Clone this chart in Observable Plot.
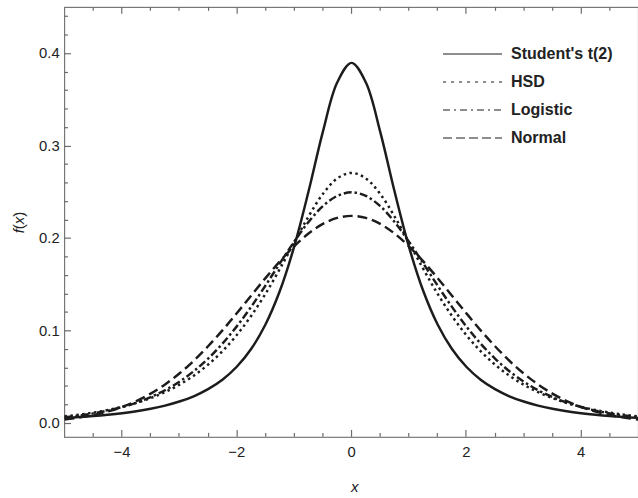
<!DOCTYPE html>
<html><head><meta charset="utf-8">
<script src="https://cdn.jsdelivr.net/npm/d3@7"></script>
<script src="https://cdn.jsdelivr.net/npm/@observablehq/plot@0.6"></script>
<style>
html,body{margin:0;padding:0;background:#fff;overflow:hidden;}
#wrap{position:relative;width:638px;height:498px;overflow:hidden;font-family:"Liberation Sans",Arial,sans-serif;color:#222;}
#legend{position:absolute;left:443px;top:40px;font-weight:bold;font-size:16px;}
.row{display:flex;align-items:center;height:28px;white-space:nowrap;}
.row svg{margin-right:9px;display:block;}
.title{position:absolute;font-size:15px;font-style:italic;}
</style></head><body>
<div id="wrap"><div id="chart"></div><div id="legend"></div>
<div class="title" style="left:351px;top:478px;">x</div>
<div class="title" style="left:-2px;top:214px;transform:rotate(-90deg);transform-origin:center;width:40px;text-align:center;"><span>f</span><span style="font-style:normal">(</span>x<span style="font-style:normal">)</span></div>
</div>
<script>
const xs = [-5,-4.75,-4.5,-4.25,-4,-3.75,-3.5,-3.25,-3,-2.75,-2.5,-2.25,-2,-1.75,-1.5,-1.25,-1,-0.75,-0.5,-0.25,0,0.25,0.5,0.75,1,1.25,1.5,1.75,2,2.25,2.5,2.75,3,3.25,3.5,3.75,4,4.25,4.5,4.75,5];
const studentT = [0.0060,0.0069,0.0080,0.0094,0.0111,0.0132,0.0159,0.0193,0.0237,0.0294,0.0371,0.0473,0.0613,0.0805,0.1070,0.1432,0.1912,0.2508,0.3154,0.3687,0.3900,0.3687,0.3154,0.2508,0.1912,0.1432,0.1070,0.0805,0.0613,0.0473,0.0371,0.0294,0.0237,0.0193,0.0159,0.0132,0.0111,0.0094,0.0080,0.0069,0.0060];
const hsd = [0.0077,0.0095,0.0117,0.0145,0.0180,0.0222,0.0275,0.0339,0.0419,0.0517,0.0636,0.0781,0.0956,0.1163,0.1402,0.1671,0.1957,0.2238,0.2482,0.2650,0.2710,0.2650,0.2482,0.2238,0.1957,0.1671,0.1402,0.1163,0.0956,0.0781,0.0636,0.0517,0.0419,0.0339,0.0275,0.0222,0.0180,0.0145,0.0117,0.0095,0.0077];
const logistic = [0.0067,0.0085,0.0109,0.0139,0.0177,0.0224,0.0285,0.0359,0.0452,0.0565,0.0701,0.0863,0.1050,0.1261,0.1491,0.1731,0.1966,0.2179,0.2350,0.2461,0.2500,0.2461,0.2350,0.2179,0.1966,0.1731,0.1491,0.1261,0.1050,0.0863,0.0701,0.0565,0.0452,0.0359,0.0285,0.0224,0.0177,0.0139,0.0109,0.0085,0.0067];
const normal = [0.0043,0.0063,0.0091,0.0129,0.0178,0.0242,0.0323,0.0422,0.0540,0.0678,0.0835,0.1007,0.1192,0.1382,0.1572,0.1753,0.1916,0.2054,0.2158,0.2223,0.2245,0.2223,0.2158,0.2054,0.1916,0.1753,0.1572,0.1382,0.1192,0.1007,0.0835,0.0678,0.0540,0.0422,0.0323,0.0242,0.0178,0.0129,0.0091,0.0063,0.0043];
const seriesNames = ["Student's t(2)","HSD","Logistic","Normal"];
const xMajor = [-4,-2,0,2,4];
const xMinor = [-4.5,-3.5,-3,-2.5,-1.5,-1,-0.5,0.5,1,1.5,2.5,3,3.5,4.5];
const yMajor = [0,0.1,0.2,0.3,0.4];
const yMinor = [0.02,0.04,0.06,0.08,0.12,0.14,0.16,0.18,0.22,0.24,0.26,0.28,0.32,0.34,0.36,0.38,0.42,0.44];

const seriesValues = [studentT, hsd, logistic, normal];
const curveDash = [null,"2.5,3.5","8,3,2.5,3","10,5"];
const legendDash = [null,"3,5","7,4,2,4","9,4"];

const axisColor = "#6a6a6a";
const ink = "#1c1c1c";

const W = 647, H = 498, mL = 65, mR = 0, mT = 7, mB = 55;

const lineMarks = seriesValues.map((vals, i) => Plot.line(xs.map((x, j) => ({x, y: vals[j]})), {
  x: "x", y: "y", stroke: ink, strokeWidth: 2.5, strokeDasharray: curveDash[i],
  curve: "catmull-rom", strokeLinecap: "butt"
}));

// inward ticks placed through the plot's own x/y scales
function inwardTicks(values, dim, edge, len) {
  return (index, scales, channels, dimensions) => {
    const g = d3.create("svg:g").attr("stroke", axisColor).attr("stroke-width", 1.2).attr("fill", "none");
    const {marginLeft, marginTop, height, marginBottom} = dimensions;
    const bottom = height - marginBottom;
    for (const v of values) {
      if (dim === "x") {
        const px = Math.round(scales.x(v)) + 0.5;
        const y0 = edge === "bottom" ? bottom : marginTop;
        const y1 = edge === "bottom" ? bottom - len : marginTop + len;
        g.append("line").attr("x1", px).attr("x2", px).attr("y1", y0).attr("y2", y1);
      } else {
        const py = Math.round(scales.y(v)) + 0.5;
        g.append("line").attr("x1", marginLeft).attr("x2", marginLeft + len).attr("y1", py).attr("y2", py);
      }
    }
    return g.node();
  };
}

const chart = Plot.plot({
  width: W, height: H,
  marginLeft: mL, marginRight: mR, marginTop: mT, marginBottom: mB,
  style: {fontFamily: "'Liberation Sans', Arial, sans-serif", fontSize: "15px", color: "#222", background: "#fff"},
  x: {domain: [-5, 5]},
  y: {domain: [-0.015, 0.45]},
  marks: [
    Plot.frame({stroke: "#777", strokeWidth: 1.2}),
    inwardTicks(xMajor, "x", "bottom", 7),
    inwardTicks(xMinor, "x", "bottom", 4),
    inwardTicks(xMajor, "x", "top", 7),
    inwardTicks(xMinor, "x", "top", 4),
    inwardTicks(yMajor, "y", "left", 7),
    inwardTicks(yMinor, "y", "left", 4),
    Plot.axisX(xMajor, {anchor: "bottom", tickSize: 0, tickPadding: 9, label: null, fill: "#222", fontSize: 15}),
    Plot.axisY(yMajor, {anchor: "left", tickSize: 0, tickPadding: 5, tickFormat: d3.format(".1f"), label: null, fill: "#222", fontSize: 15}),
    ...lineMarks
  ]
});
document.getElementById("chart").appendChild(chart);

const legend = document.getElementById("legend");
seriesNames.forEach((name, i) => {
  const row = document.createElement("div");
  row.className = "row";
  const dash = legendDash[i] ? ` stroke-dasharray="${legendDash[i]}"` : "";
  row.innerHTML = `<svg width="59" height="4"><line x1="0" y1="2" x2="59" y2="2" stroke="${ink}" stroke-width="1"${dash}/></svg><span>${name}</span>`;
  legend.appendChild(row);
});
</script>
</body></html>
